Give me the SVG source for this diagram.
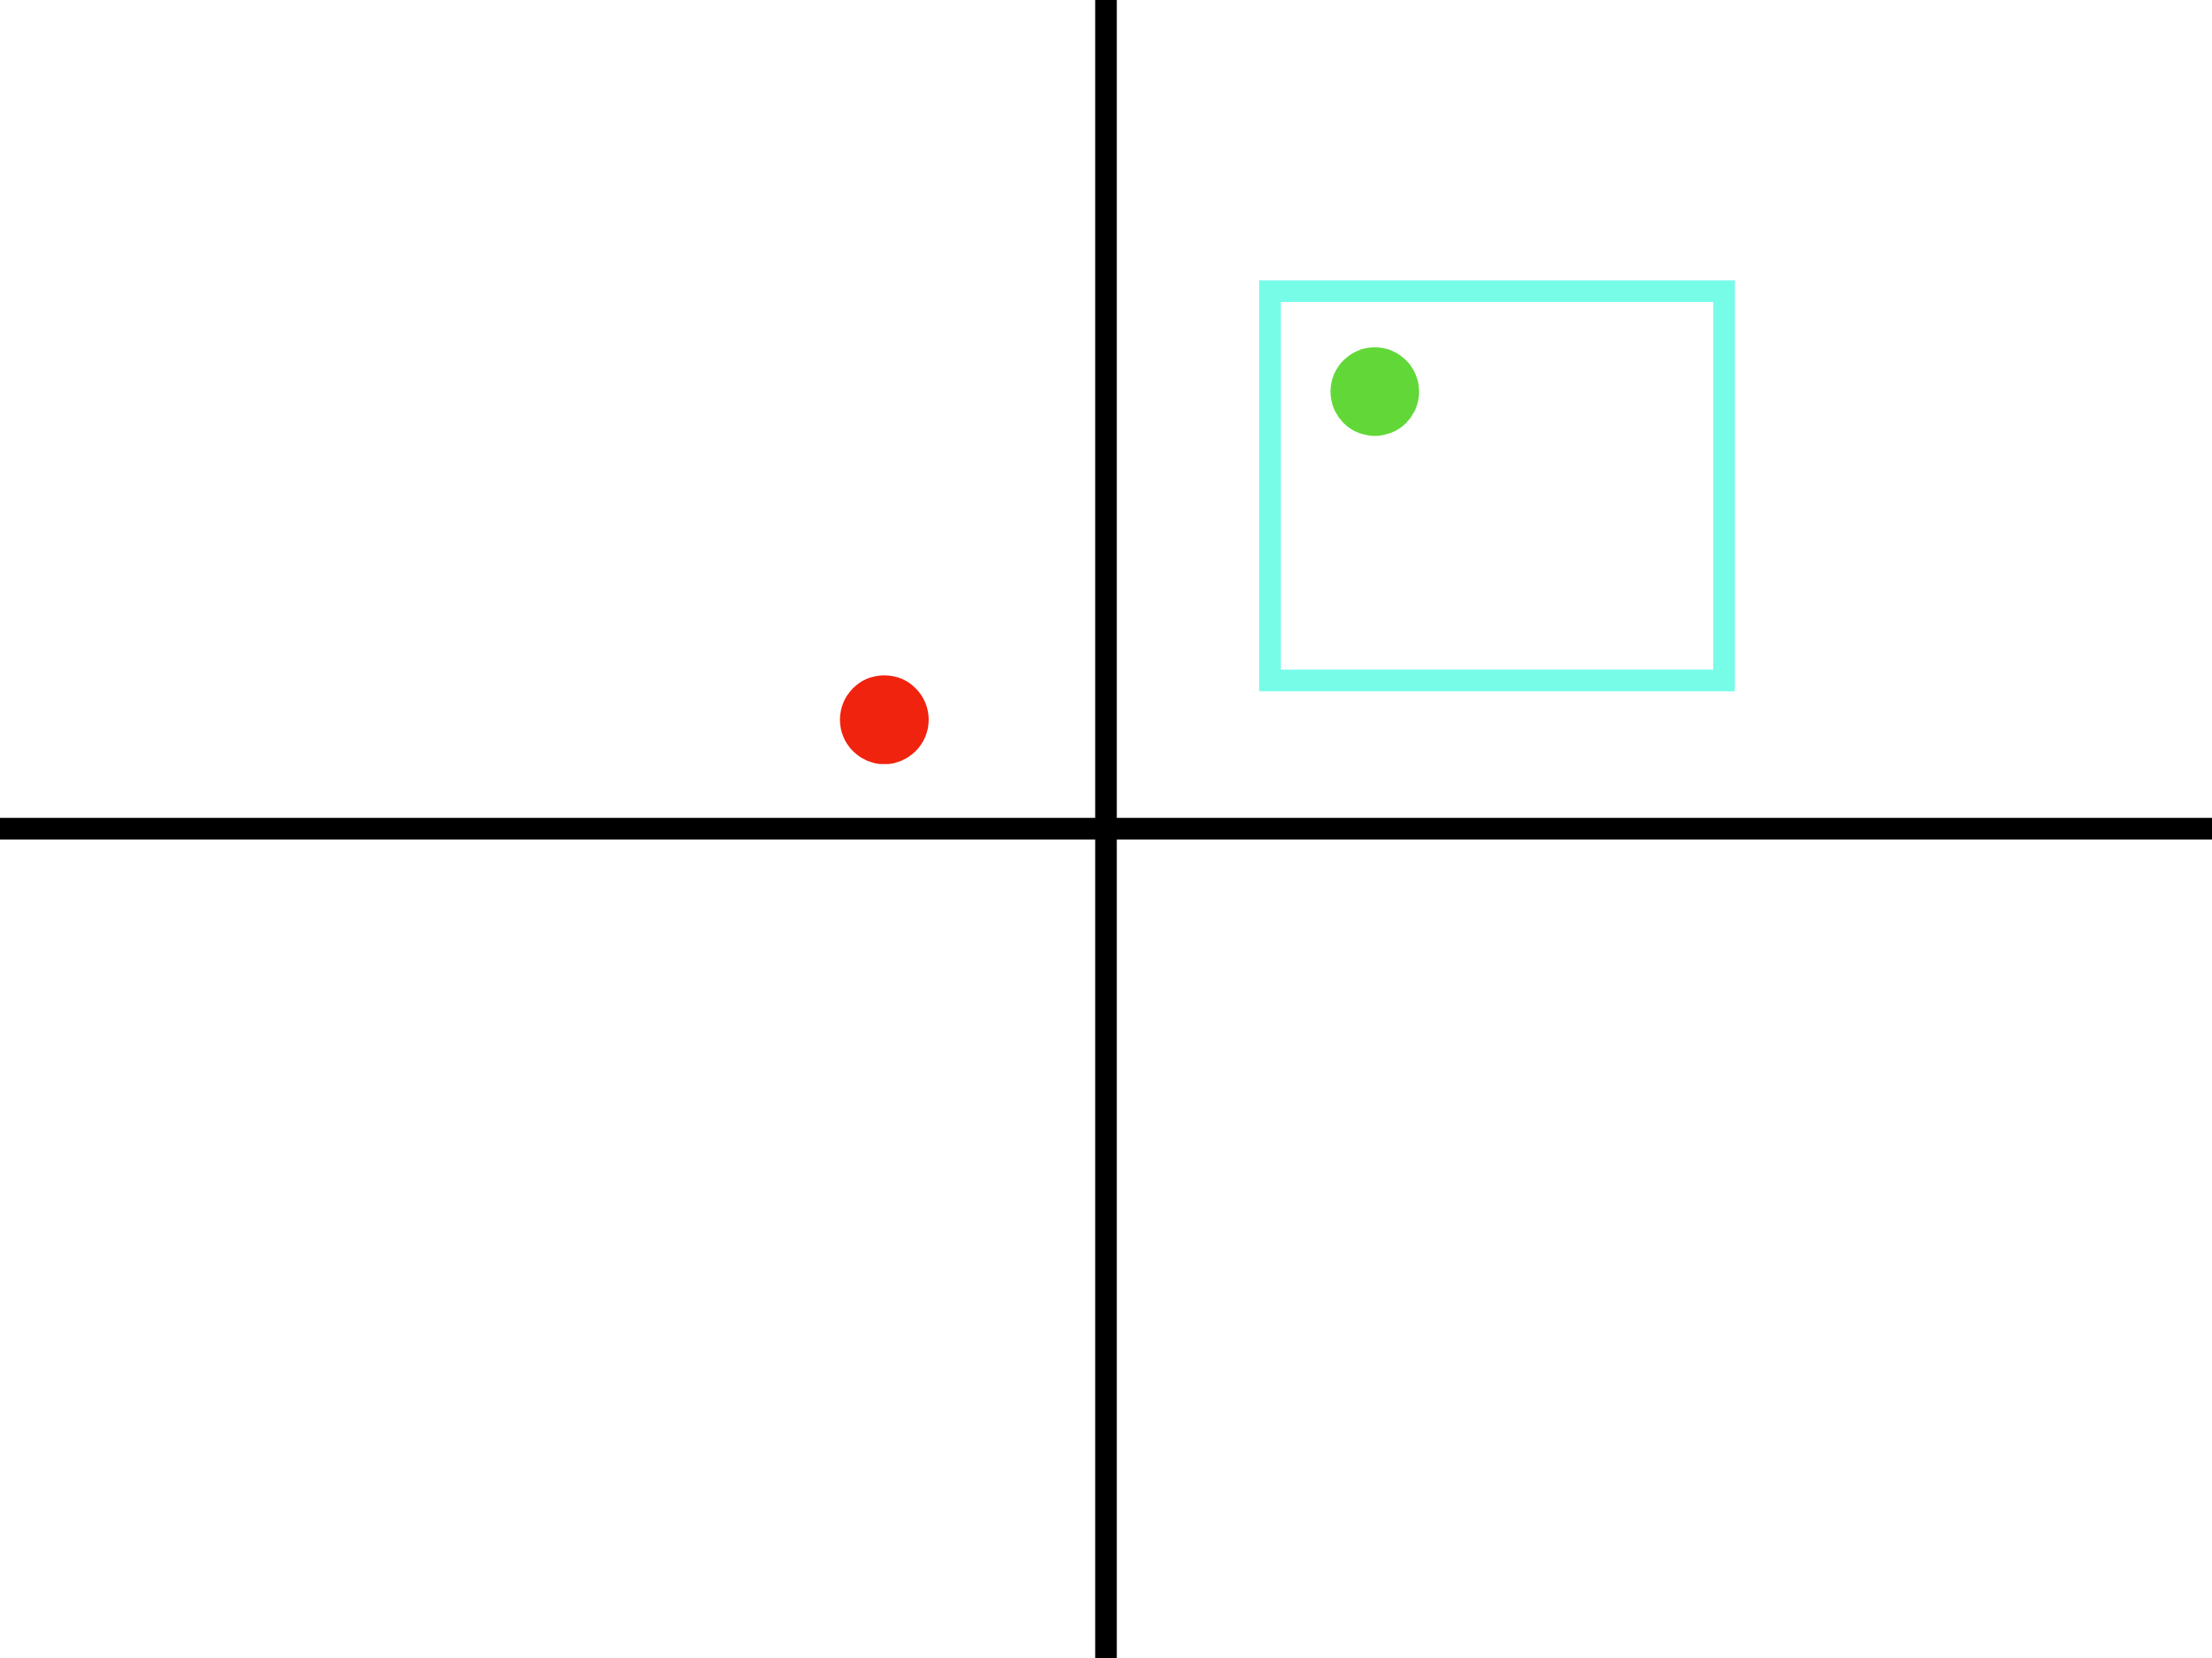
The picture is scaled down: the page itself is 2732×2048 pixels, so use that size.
<svg xmlns="http://www.w3.org/2000/svg" width="2732" height="2048" viewBox="0 0 2732 2048">
<style>
.axis{stroke:#000;stroke-width:26.7;fill:none}
.dot{stroke:none}
</style>
<rect x="0" y="0" width="2732" height="2048" fill="#fff"/>
<g id="connectors">
<line class="axis" x1="1366" y1="0" x2="1366" y2="2048"/>
<line class="axis" x1="0" y1="1023.7" x2="2732" y2="1023.7"/>
</g>
<g id="box">
<rect x="1568.5" y="359.7" width="560.8" height="480.8" fill="none" stroke="#77FCE8" stroke-width="26.7"/>
</g>
<g id="green-dot">
<circle class="dot" cx="1698" cy="483.7" r="54.7" fill="#62D838"/>
</g>
<g id="red-dot">
<circle class="dot" cx="1092.2" cy="889" r="54.8" fill="#F0230E"/>
</g>
</svg>
